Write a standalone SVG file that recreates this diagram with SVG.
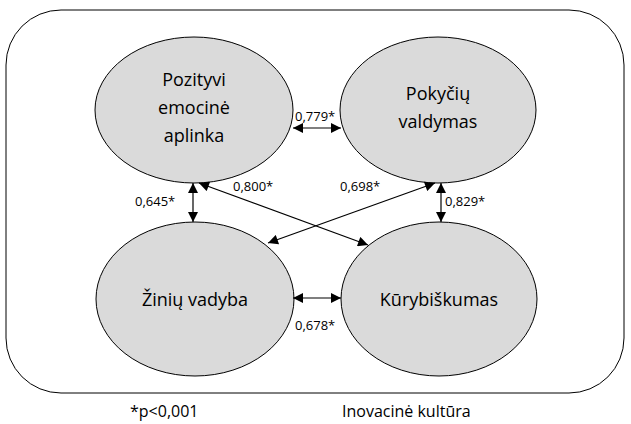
<svg xmlns="http://www.w3.org/2000/svg" width="631" height="424" viewBox="0 0 631 424">
<style>
.node{fill:#dadada;stroke:#000;stroke-width:1}
.nt{font-family:"Open Sans","Liberation Sans",sans-serif;font-size:18px;fill:#000;text-anchor:middle}
.lb{font-family:"Open Sans","Liberation Sans",sans-serif;font-size:13px;fill:#000}
.ft{font-family:"Open Sans","Liberation Sans",sans-serif;font-size:16px;fill:#000}
.c{stroke:#000;stroke-width:1.2;fill:none;marker-start:url(#ah);marker-end:url(#ah)}
</style>
<defs>
<marker id="ah" viewBox="0 0 10 10" refX="10" refY="5" markerWidth="11" markerHeight="10" markerUnits="userSpaceOnUse" orient="auto-start-reverse">
<path d="M0,0 L10,5 L0,10 z" fill="#000"/>
</marker>
</defs>
<rect x="6" y="10" width="618" height="383" rx="55" ry="55" fill="#fff" stroke="#000" stroke-width="1"/>
<g id="n1"><ellipse class="node" cx="194" cy="110" rx="99" ry="73"/>
<text class="nt" x="194" y="86">Pozityvi</text><text class="nt" x="194" y="114">emocinė</text><text class="nt" x="194" y="142">aplinka</text></g>
<g id="n2"><ellipse class="node" cx="438" cy="110" rx="98" ry="73"/>
<text class="nt" x="438" y="100">Pokyčių</text><text class="nt" x="438" y="128">valdymas</text></g>
<g id="n3"><ellipse class="node" cx="195" cy="299" rx="99" ry="77"/>
<text class="nt" x="195" y="306">Žinių vadyba</text></g>
<g id="n4"><ellipse class="node" cx="439" cy="299" rx="98" ry="77"/>
<text class="nt" x="439" y="306">Kūrybiškumas</text></g>
<g id="edges">
<line class="c" x1="293" y1="128" x2="341" y2="128"/>
<line class="c" x1="293" y1="298" x2="341" y2="298"/>
<line class="c" x1="193" y1="183" x2="193" y2="222"/>
<line class="c" x1="441" y1="183" x2="441" y2="222"/>
<line class="c" x1="199" y1="183" x2="368" y2="245"/>
<line class="c" x1="435" y1="183" x2="268" y2="243"/>
<text class="lb" x="295" y="121">0,779*</text>
<text class="lb" x="295" y="330">0,678*</text>
<text class="lb" x="135" y="206">0,645*</text>
<text class="lb" x="445" y="206">0,829*</text>
<text class="lb" x="233" y="191">0,800*</text>
<text class="lb" x="340" y="191">0,698*</text>
</g>
<text class="ft" x="130" y="417">*p&lt;0,001</text>
<text class="ft" x="342" y="417">Inovacinė kultūra</text>
</svg>
